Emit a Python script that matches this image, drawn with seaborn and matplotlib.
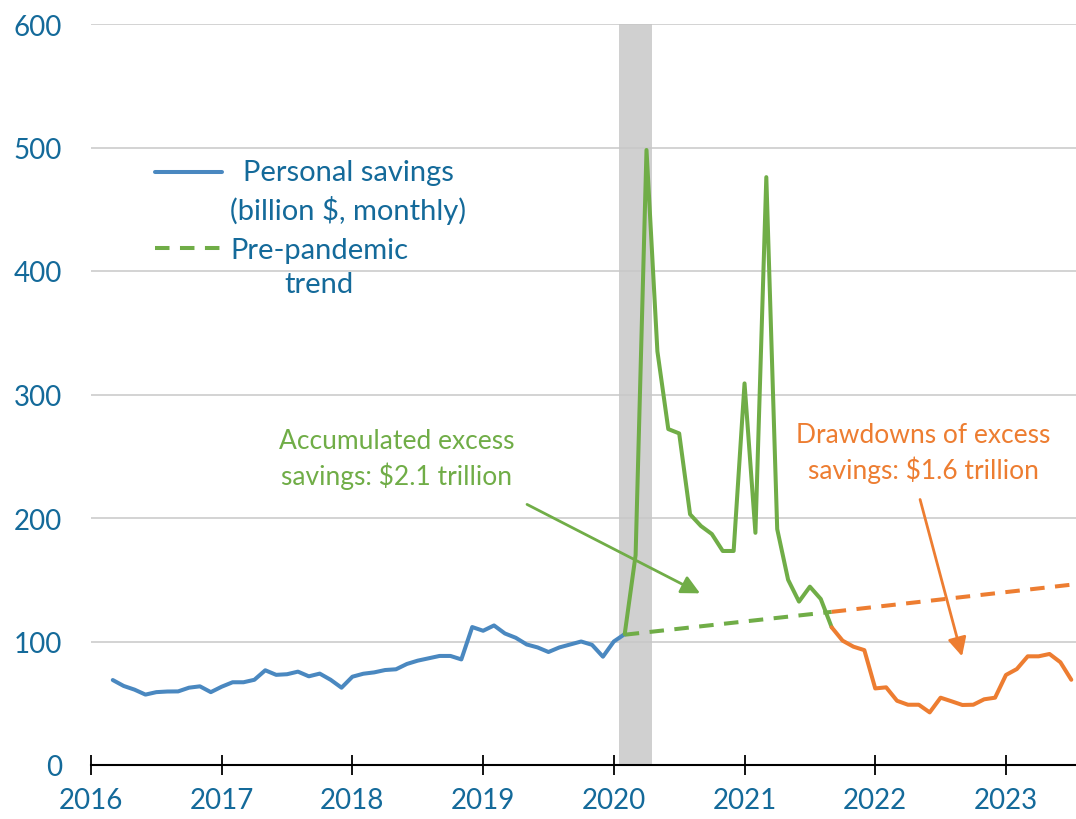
import numpy as np
import pandas as pd
import matplotlib
matplotlib.use("Agg")
import matplotlib.pyplot as plt
import seaborn as sns
from matplotlib.legend_handler import HandlerLine2D

# ---------------- data ----------------
pre_dates = ["2016-03", "2016-04", "2016-05", "2016-06", "2016-07", "2016-08", "2016-09", "2016-10",
             "2016-11", "2016-12",
             "2017-01", "2017-02", "2017-03", "2017-04", "2017-05", "2017-06", "2017-07", "2017-08",
             "2017-09", "2017-10", "2017-11", "2017-12",
             "2018-01", "2018-02", "2018-03", "2018-04", "2018-05", "2018-06", "2018-07", "2018-08",
             "2018-09", "2018-10", "2018-11", "2018-12",
             "2019-01", "2019-02", "2019-03", "2019-04", "2019-05", "2019-06", "2019-07", "2019-08",
             "2019-09", "2019-10", "2019-11", "2019-12",
             "2020-01", "2020-02"]
pre_values = [68.8, 64, 61, 57, 59, 59.5, 59.6, 62.6, 63.7, 59,
              63.4, 67, 67, 69, 76.7, 73, 73.5, 75.6, 71.8, 74, 69, 62.6,
              71.5, 73.9, 75, 76.9, 77.5, 81.8, 84.5, 86.4, 88.3, 88.3, 85.5, 111.7,
              108.7, 113, 106.5, 103, 97.6, 95.2, 91.5, 95.2, 97.6, 100, 97.3, 87.7,
              100, 106]

accum_dates = ["2020-02", "2020-03", "2020-04", "2020-05", "2020-06", "2020-07", "2020-08", "2020-09",
               "2020-10", "2020-11", "2020-12",
               "2021-01", "2021-02", "2021-03", "2021-04", "2021-05", "2021-06", "2021-07", "2021-08",
               "2021-09"]
accum_values = [106, 170, 498, 335, 272, 268.5, 203, 193.5, 187, 173.3, 173.3,
                309, 188, 476, 191, 150, 132.3, 144.4, 134.4, 111.5]

draw_dates = ["2021-09", "2021-10", "2021-11", "2021-12",
              "2022-01", "2022-02", "2022-03", "2022-04", "2022-05", "2022-06", "2022-07", "2022-08",
              "2022-09", "2022-10", "2022-11", "2022-12",
              "2023-01", "2023-02", "2023-03", "2023-04", "2023-05", "2023-06", "2023-07"]
draw_values = [111.5, 100.7, 95.8, 93,
               62, 62.9, 52, 48.8, 48.8, 42.6, 54.5, 51.6, 48.6, 48.8, 53.2, 54.5,
               72.9, 77.7, 88, 88, 89.9, 83.2, 69]

trend_green_dates = ["2020-02", "2021-09"]
trend_green_values = [105.5, 124]
trend_orange_dates = ["2021-09", "2023-07"]
trend_orange_values = [124, 146]

recession = (2020.04, 2020.29)
year_ticks = [2016, 2017, 2018, 2019, 2020, 2021, 2022, 2023]
y_ticks = [0, 100, 200, 300, 400, 500, 600]

legend_labels = ["Personal savings\n(billion \\$, monthly)", "Pre-pandemic\ntrend"]
green_note = "Accumulated excess\nsavings: \\$2.1 trillion"
orange_note = "Drawdowns of excess\nsavings: \\$1.6 trillion"


def to_frame(dates, values):
    d = pd.to_datetime(dates)
    return pd.DataFrame({"t": d.year + (d.month - 1) / 12.0, "v": values})


BLUE = "#4A88C0"
GREEN = "#70AD47"
ORANGE = "#ED7D31"
TEXT = "#146A9A"

sns.set_theme(style="white")
plt.rcParams["font.family"] = ["Lato", "DejaVu Sans"]

fig = plt.figure(figsize=(10.76, 8.2), dpi=100)
ax = fig.add_axes([91 / 1076, 54 / 820, 985 / 1076, 741 / 820])

ax.axvspan(*recession, color="#D0D0D0", lw=0, zorder=0.5)

lw = 2.9
sns.lineplot(data=to_frame(pre_dates, pre_values), x="t", y="v", ax=ax, color=BLUE, lw=lw,
             label=legend_labels[0], zorder=3)
sns.lineplot(data=to_frame(accum_dates, accum_values), x="t", y="v", ax=ax, color=GREEN, lw=lw,
             zorder=3)
sns.lineplot(data=to_frame(draw_dates, draw_values), x="t", y="v", ax=ax, color=ORANGE, lw=lw,
             zorder=3)
sns.lineplot(data=to_frame(trend_green_dates, trend_green_values), x="t", y="v", ax=ax, color=GREEN,
             lw=lw, dashes=False, linestyle=(0, (3.6, 2.6)), label=legend_labels[1], zorder=2)
sns.lineplot(data=to_frame(trend_orange_dates, trend_orange_values), x="t", y="v", ax=ax, color=ORANGE,
             lw=lw, dashes=False, linestyle=(0, (3.6, 2.6)), zorder=2)

ax.set_xlim(2016.0, 2023.536)
ax.set_ylim(0, 600)
ax.set_yticks(y_ticks)
ax.set_xticks(year_ticks)
ax.set_xticklabels([str(y) for y in year_ticks])
ax.set_xlabel("")
ax.set_ylabel("")
ax.grid(axis="y", color="#C8C8C8", lw=1.1)
ax.grid(axis="x", visible=False)
for s in ["top", "right", "left"]:
    ax.spines[s].set_visible(False)
ax.spines["bottom"].set_color("black")
ax.spines["bottom"].set_linewidth(1.5)
ax.spines["bottom"].set_zorder(4)
ax.tick_params(axis="y", length=0, pad=21, labelsize=20, labelcolor=TEXT)
ax.tick_params(axis="x", direction="inout", length=14, width=1.3, color="black", pad=9,
               labelsize=20, labelcolor=TEXT, bottom=True)
ax.set_axisbelow(True)

# annotations
ax.text(2018.34, 248, green_note, ha="center", va="center", color=GREEN, fontsize=19, linespacing=1.38)
ax.text(2022.366, 253, orange_note, ha="center", va="center", color=ORANGE, fontsize=19, linespacing=1.38)
ax.annotate("", xy=(2020.66, 139), xytext=(2019.336, 211),
            arrowprops=dict(arrowstyle="-|>", color=GREEN, lw=2, mutation_scale=28, shrinkA=0, shrinkB=0))
ax.annotate("", xy=(2022.664, 88), xytext=(2022.343, 215),
            arrowprops=dict(arrowstyle="-|>", color=ORANGE, lw=2, mutation_scale=28, shrinkA=0, shrinkB=0))


class TopHandler(HandlerLine2D):
    def __init__(self, shift, **kw):
        super().__init__(**kw)
        self.shift = shift

    def create_artists(self, legend, orig_handle, xdescent, ydescent, width, height, fontsize, trans):
        arts = super().create_artists(legend, orig_handle, xdescent, ydescent, width, height, fontsize, trans)
        for a in arts:
            a.set_ydata(np.asarray(a.get_ydata()) + self.shift)
        return arts


handles, labels = ax.get_legend_handles_labels()
leg = ax.legend(handles, labels, loc="upper left", bbox_to_anchor=(155 / 1076, 1 - 160 / 820),
                bbox_transform=fig.transFigure, frameon=False, fontsize=21, borderpad=0,
                handlelength=2.3, handletextpad=0.28, labelspacing=0.45, borderaxespad=0,
                handler_map={h: TopHandler(14) for h in handles})
for t in leg.get_texts():
    t.set_color(TEXT)
    t.set_multialignment("center")
    t.set_linespacing(1.4)

fig.savefig("out.png", dpi=100)
